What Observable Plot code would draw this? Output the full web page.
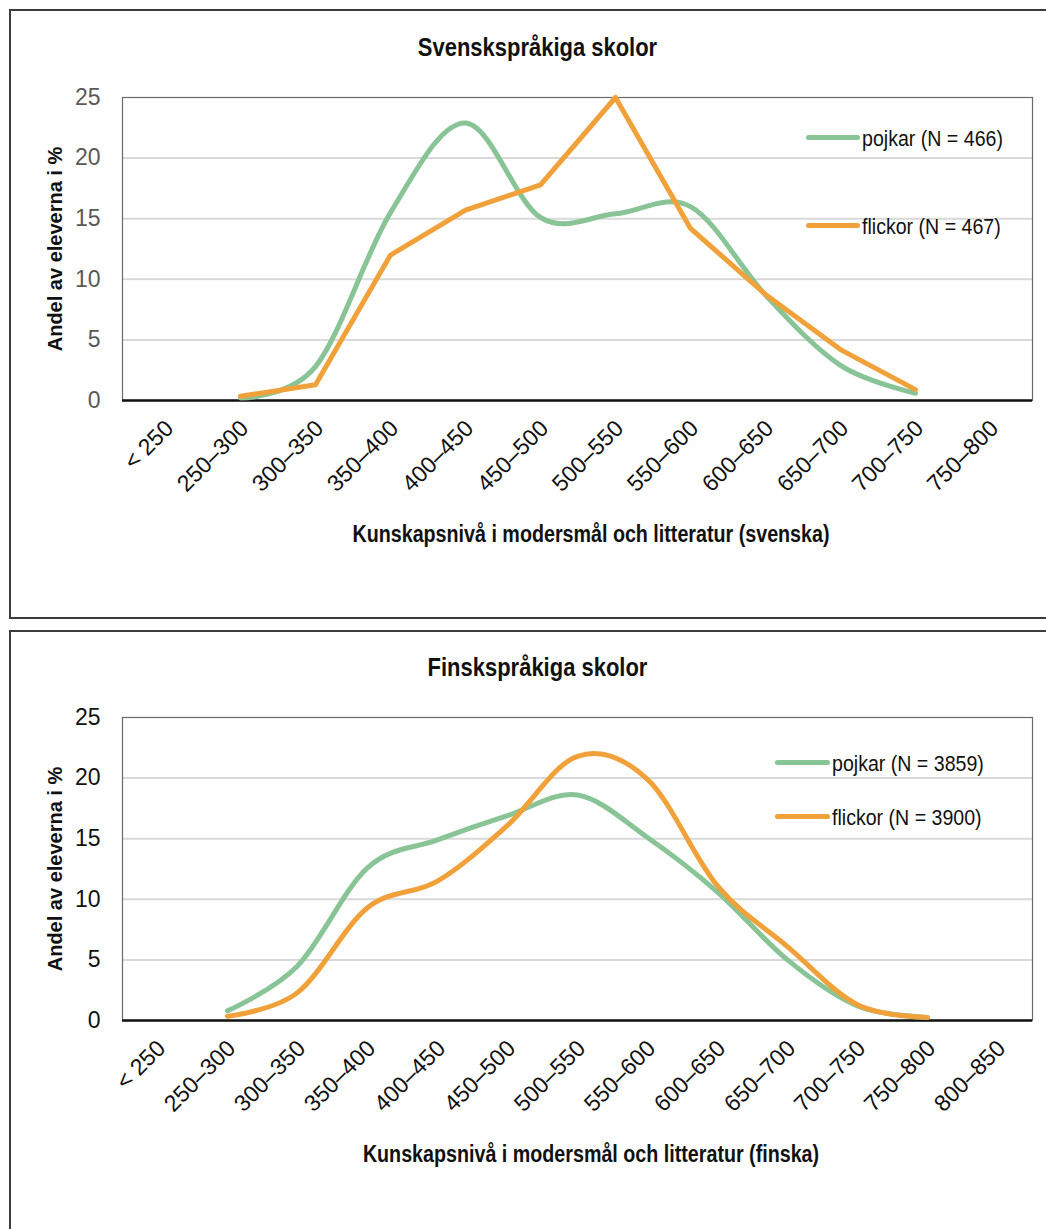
<!DOCTYPE html>
<html><head><meta charset="utf-8">
<script src="https://cdn.jsdelivr.net/npm/d3@7"></script>
<script src="https://cdn.jsdelivr.net/npm/@observablehq/plot@0.6"></script>
<style>
body{margin:0;background:#fff;}
#page{position:relative;width:1046px;height:1229px;overflow:hidden;font-family:"Liberation Sans",Arial,sans-serif;color:#111;}
.frame{position:absolute;border:2px solid #3c3c3c;box-sizing:border-box;}
.t{position:absolute;white-space:nowrap;line-height:1;}
.panel{position:absolute;left:0;}
.leg{position:absolute;height:5px;border-radius:3px;}
</style></head><body><div id="page"></div>
<script>
// ---- data ----
const svCats = ["< 250","250–300","300–350","350–400","400–450","450–500","500–550","550–600","600–650","650–700","700–750","750–800"];
const svPojkar  = [null, 0.2, 2.8, 15.5, 22.9, 15.1, 15.4, 16.0, 8.7, 2.9, 0.6, null];
const svFlickor = [null, 0.35, 1.3, 12.0, 15.7, 17.8, 25.0, 14.2, 8.75, 4.2, 0.9, null];
const fiCats = ["< 250","250–300","300–350","350–400","400–450","450–500","500–550","550–600","600–650","650–700","700–750","750–800","800–850"];
const fiPojkar  = [null, 0.8, 4.5, 12.6, 14.9, 16.9, 18.6, 15.1, 10.6, 5.0, 1.2, 0.25, null];
const fiFlickor = [null, 0.35, 2.3, 9.3, 11.5, 16.1, 21.8, 19.9, 11.1, 6.1, 1.3, 0.25, null];
const yTicks = [0, 5, 10, 15, 20, 25];
const svLegend = ["pojkar (N = 466)", "flickor (N = 467)"];
const fiLegend = ["pojkar (N = 3859)", "flickor (N = 3900)"];
const svTitle = "Svenskspråkiga skolor";
const fiTitle = "Finskspråkiga skolor";
const svXLabel = "Kunskapsnivå i modersmål och litteratur (svenska)";
const fiXLabel = "Kunskapsnivå i modersmål och litteratur (finska)";
const yLabel = "Andel av eleverna i %";

const GREEN = "#89c497", ORANGE = "#f0a13a";
const FONT = '"Liberation Sans",Arial,sans-serif';
const NARROW = 0.8; // horizontal compression to imitate a narrow typeface

const page = document.getElementById("page");
function el(cls, css, text){const d=document.createElement("div");d.className=cls;Object.assign(d.style,css);if(text!=null)d.textContent=text;page.appendChild(d);return d;}

function series(cats, vals){return cats.map((c,i)=>({cat:c, v:vals[i]})).filter(d=>d.v!=null);}

function chart(cats, boys, girls, tickColor, girlsCurve){
  const svg = Plot.plot({
    width:1046, height:470, marginLeft:122, marginRight:14, marginTop:97, marginBottom:70,
    x:{type:"point", domain:cats, padding:0.5, axis:null},
    y:{domain:[0,25], axis:null},
    style:{fontFamily:FONT, background:"transparent", overflow:"visible"},
    marks:[
      Plot.gridY([5,10,15,20], {stroke:"#d9d9d9", strokeOpacity:1, strokeWidth:2}),
      Plot.frame({stroke:"#6a6a6a", strokeWidth:1.2}),
      Plot.ruleY([0], {stroke:"#111", strokeWidth:2.5}),
      Plot.axisY(yTicks, {tickSize:0, tickPadding:22, fontSize:23, color:tickColor, label:null, ariaLabel:"yticks"}),
      Plot.text(cats, {x:d=>d, frameAnchor:"bottom", rotate:-45, textAnchor:"end", lineAnchor:"middle", dy:24, dx:4, fontSize:23, fill:"#111", ariaLabel:"xticks"}),
      Plot.line(series(cats, boys), {x:"cat", y:"v", stroke:GREEN, strokeWidth:5, curve:"cardinal", strokeLinecap:"round", strokeLinejoin:"round"}),
      Plot.line(series(cats, girls), {x:"cat", y:"v", stroke:ORANGE, strokeWidth:5, curve:girlsCurve, strokeLinecap:"round", strokeLinejoin:"round"})
    ]
  });
  svg.querySelectorAll('g[aria-label="yticks"] text, g[aria-label="xticks"] text').forEach(t=>{
    const tr = t.getAttribute("transform") || "";
    t.setAttribute("transform", tr + ` scale(${NARROW},1)`);
  });
  return svg;
}

function panel(top, cats, boys, girls, tickColor, girlsCurve, title, xlabel, legend, legX, legY){
  const p = el("panel", {top: top+"px"});
  p.appendChild(chart(cats, boys, girls, tickColor, girlsCurve));
  const B = 0.8465;
  el("t", {left:"0px", width:"1075px", textAlign:"center", top:(top+56-B*26)+"px", fontSize:"26px", fontWeight:"bold", transform:"scaleX(0.845)", transformOrigin:"50% 50%"}, title);
  el("t", {left:"0px", width:"1182px", textAlign:"center", top:(top+542-B*23)+"px", fontSize:"23px", fontWeight:"bold", transform:"scaleX(0.856)", transformOrigin:"50% 50%"}, xlabel);
  // y label rotated
  const fs=20, w=300;
  const cx = 62 - 0.3465*fs, cy = top + 248.5;
  el("t", {left:(cx-w/2)+"px", top:(cy-fs/2)+"px", width:w+"px", textAlign:"center", fontSize:fs+"px", fontWeight:"bold", transform:"rotate(-90deg)", transformOrigin:"50% 50%"}, yLabel);
  // legend
  [GREEN, ORANGE].forEach((c,i)=>{
    const ly = top + legY[i];
    el("leg", {left:legX[0]+"px", width:(legX[1]-legX[0])+"px", top:(ly-2.5)+"px", background:c});
    el("t", {left:(legX[1]+2)+"px", top:(ly+10-B*22)+"px", fontSize:"22px", transform:"scaleX(0.89)", transformOrigin:"0 50%"}, legend[i]);
  });
}

el("frame", {left:"9px", top:"9px", width:"1060px", height:"610px"});
el("frame", {left:"9px", top:"630px", width:"1060px", height:"620px"});
panel(0, svCats, svPojkar, svFlickor, "#595959", "linear", svTitle, svXLabel, svLegend, [806,860], [137,225]);
panel(620, fiCats, fiPojkar, fiFlickor, "#111", "cardinal", fiTitle, fiXLabel, fiLegend, [775,830], [142,196]);
</script></body></html>
